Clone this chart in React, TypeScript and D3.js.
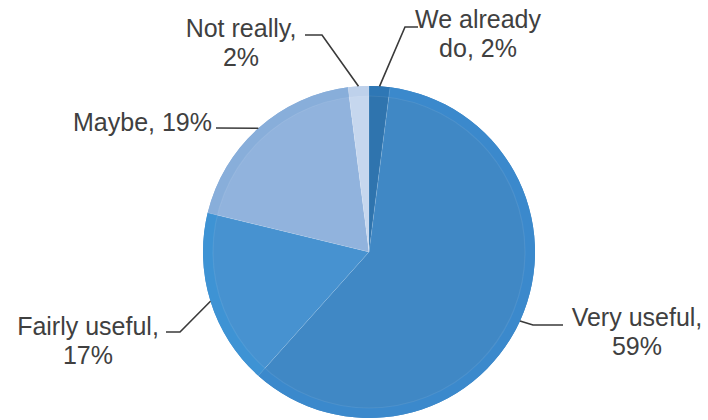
import { useEffect, useRef } from 'react';
import * as d3 from 'd3';

// survey answers, clockwise from 12 o'clock
const categories = ['We already do', 'Very useful', 'Fairly useful', 'Maybe', 'Not really'];
const shares = [2, 59, 17, 19, 2];
const fills = ['#2f74ae', '#4088c5', '#4792d0', '#91b3dd', '#c6d7ee'];
const rims = ['#2e77b5', '#3b89cc', '#3e93d4', '#88aeda', '#bed1eb'];

// leader elbows / label anchors (picture coords)
const leaderPts: [number, number][][] = [
  [[405, 27], [418, 27]],
  [[533, 325], [563, 325]],
  [[180, 332], [166, 332]],
  [[216, 128]],
  [[322, 35], [305, 35]],
];
const labelPos: { x: number; y: number; anchor: string; lines: string[] }[] = [
  { x: 478, y: 28, anchor: 'middle', lines: ['We already', 'do, 2%'] },
  { x: 637, y: 326, anchor: 'middle', lines: ['Very useful,', '59%'] },
  { x: 88, y: 335, anchor: 'middle', lines: ['Fairly useful,', '17%'] },
  { x: 212, y: 131, anchor: 'end', lines: ['Maybe, 19%'] },
  { x: 241, y: 37, anchor: 'middle', lines: ['Not really,', '2%'] },
];

export default function App() {
  const ref = useRef<SVGSVGElement>(null);

  useEffect(() => {
    if (!ref.current) return;
    const svg = d3.select(ref.current);
    svg.selectAll('*').remove();

    const cx = 369, cy = 252, r = 166, rim = 10;
    const data = categories.map((c, i) => ({ name: c, value: shares[i], i }));
    const pie = d3.pie<{ name: string; value: number; i: number }>().sort(null).value(d => d.value);
    const arcs = pie(data);

    const g = svg.append('g').attr('transform', `translate(${cx},${cy})`);
    const full = d3.arc<any>().innerRadius(0).outerRadius(r);
    const ring = d3.arc<any>().innerRadius(r - rim).outerRadius(r);

    g.selectAll('.slice').data(arcs).enter().append('path')
      .attr('class', 'slice')
      .attr('d', full)
      .attr('fill', d => fills[d.data.i]);

    g.selectAll('.rim').data(arcs).enter().append('path')
      .attr('class', 'rim')
      .attr('d', ring)
      .attr('fill', d => rims[d.data.i]);

    // faint bevel line at the inside of the rim
    g.append('circle').attr('r', r - rim).attr('fill', 'none')
      .attr('stroke', '#ffffff').attr('stroke-opacity', 0.08).attr('stroke-width', 1.2);

    // light seams between slices
    g.selectAll('.seam').data(arcs).enter().append('line')
      .attr('x1', 0).attr('y1', 0)
      .attr('x2', d => r * Math.sin(d.startAngle))
      .attr('y2', d => -r * Math.cos(d.startAngle))
      .attr('stroke', '#ffffff').attr('stroke-opacity', 0.12).attr('stroke-width', 1);

    // leader lines from the slice mid-angle on the edge
    arcs.forEach((a, k) => {
      const mid = (a.startAngle + a.endAngle) / 2;
      const start: [number, number] = [cx + r * Math.sin(mid), cy - r * Math.cos(mid)];
      const pts = [start, ...leaderPts[k]];
      svg.append('path')
        .attr('d', d3.line()(pts))
        .attr('fill', 'none').attr('stroke', '#3a3a3a').attr('stroke-width', 1.6);
    });

    labelPos.forEach(l => {
      l.lines.forEach((ln, j) => {
        svg.append('text')
          .attr('x', l.x).attr('y', l.y + j * 29)
          .attr('text-anchor', l.anchor)
          .attr('font-family', '"Liberation Sans", Arial, sans-serif')
          .attr('font-size', '25px')
          .attr('fill', '#404040')
          .text(ln);
      });
    });
  }, []);

  return (
    <svg
      ref={ref}
      width={708}
      height={420}
      style={{ position: 'absolute', left: 0, top: 0, background: '#ffffff' }}
    />
  );
}
